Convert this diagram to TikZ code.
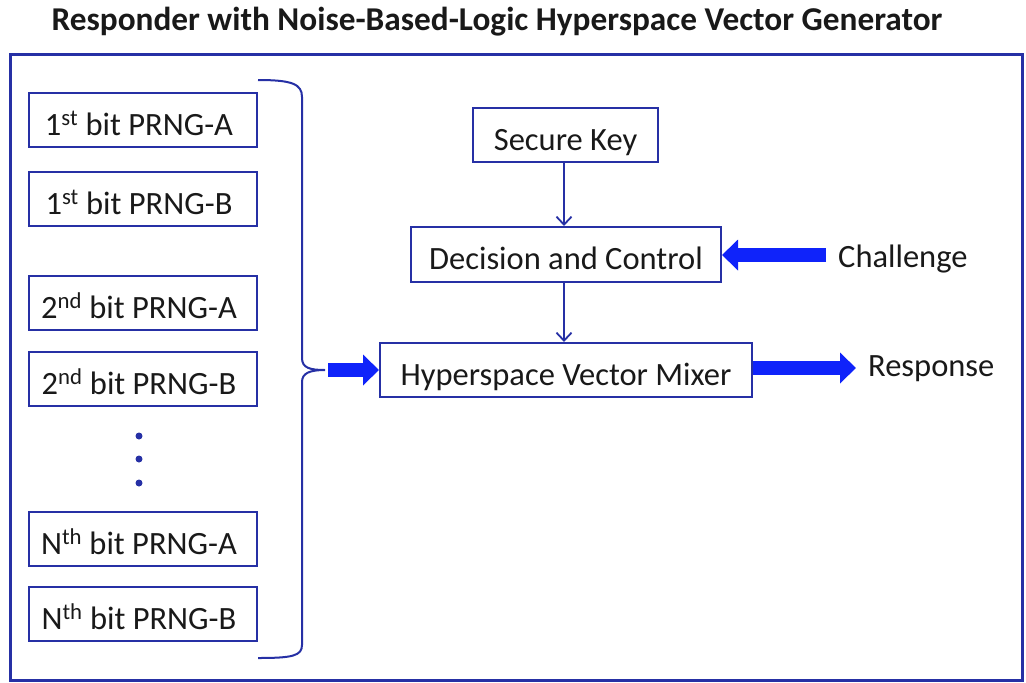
\documentclass[tikz,border=0pt]{standalone}
\usepackage{fontspec}
\setmainfont{Carlito}
\usetikzlibrary{arrows.meta}
\definecolor{framecol}{RGB}{38,48,165}
\definecolor{fatcol}{RGB}{15,35,250}
\begin{document}
\begin{tikzpicture}[x=1pt,y=-1pt,
  box/.style={draw=framecol,line width=2pt,rectangle,inner sep=0pt,minimum height=54pt,text height=30pt,text depth=0pt,font=\fontsize{32.5}{38}\selectfont,text=black!90},
  prng/.style={box,minimum width=228pt},
  thin/.style={draw=framecol,line width=1.8pt,-{Straight Barb[length=8pt,width=15pt,line width=1.8pt]}},
  fat/.style={draw=fatcol,line width=14pt,-{Triangle[length=16pt,width=30pt]}},
  lbl/.style={anchor=base west,font=\fontsize{32.5}{38}\selectfont,text=black!90,inner sep=0pt}]
\useasboundingbox (0,0) rectangle (1026,683);
\node[font=\bfseries\fontsize{33.3}{38}\selectfont,inner sep=0pt,text=black!90,anchor=base] (title) at (497,30) {Responder with Noise-Based-Logic Hyperspace Vector Generator};
\draw[framecol,line width=3pt] (10,54) rectangle (1022,680);
\node[prng] (a1) at (143,120) {\hspace*{-8pt}1\textsuperscript{st} bit PRNG-A};
\node[prng] (b1) at (143,199) {\hspace*{-8pt}1\textsuperscript{st} bit PRNG-B};
\node[prng] (a2) at (143,303) {\hspace*{-8pt}2\textsuperscript{nd} bit PRNG-A};
\node[prng] (b2) at (143,379) {\hspace*{-8pt}2\textsuperscript{nd} bit PRNG-B};
\node[prng] (aN) at (143,539) {\hspace*{-8pt}N\textsuperscript{th} bit PRNG-A};
\node[prng] (bN) at (143,614) {\hspace*{-8pt}N\textsuperscript{th} bit PRNG-B};
\foreach \y/\n in {436/d1,459/d2,483/d3}
  \fill[framecol] (139,\y) circle (3.5pt) coordinate (\n);
\draw[framecol,line width=2pt] (258,80) .. controls (292,80) and (302,84) .. (302,97) -- (302,358)
  .. controls (302,368) and (310,370) .. (325,370) coordinate (tip)
  .. controls (310,370) and (302,373) .. (302,382) -- (302,645)
  .. controls (302,656) and (292,658) .. (258,658);
\node[box,minimum width=185pt] (key) at (565.5,135) {Secure Key};
\node[box,minimum width=310pt,minimum height=55pt] (dec) at (566,254.5) {Decision and Control};
\node[box,minimum width=372pt] (mix) at (566,370) {Hyperspace Vector Mixer};
\node[lbl] (chal) at (838,267) {Challenge};
\node[lbl] (resp) at (868,376) {Response};
\coordinate (chs) at (826,255);
\coordinate (rse) at (856,368);
\draw[thin] (key.south -| 564,0) -- (dec.north -| 564,0);
\draw[thin] (dec.south -| 564,0) -- (mix.north -| 564,0);
\draw[fat] (chs) -- (dec.east |- chs);
\draw[fat] (mix.east |- rse) -- (rse);
\draw[fat] (tip) ++(3,0) -- (mix.west);
\end{tikzpicture}
\end{document}
